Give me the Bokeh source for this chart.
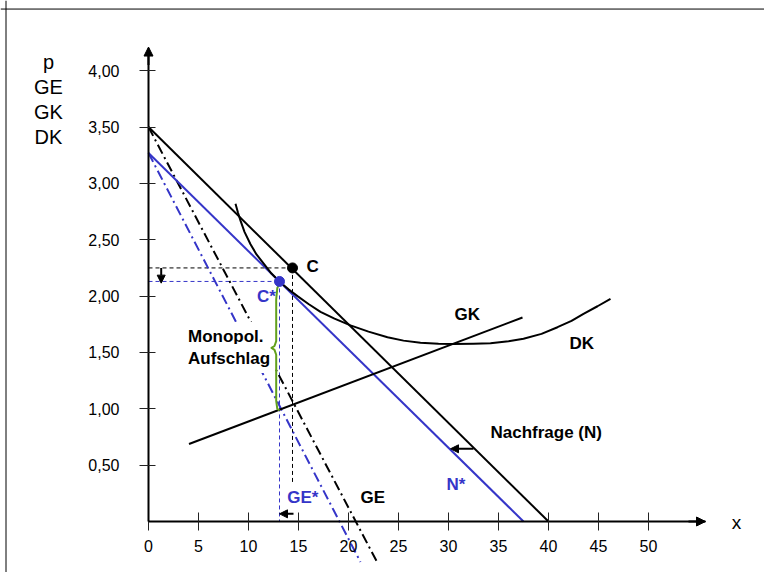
from bokeh.plotting import figure
from bokeh.models import Range1d, FixedTicker, Arrow, NormalHead, Span
from bokeh.core.properties import value
from bokeh.embed import file_html
from bokeh.resources import INLINE

# ---------------- data ----------------
x_ticks = [0, 5, 10, 15, 20, 25, 30, 35, 40, 45, 50]
x_tick_labels = ["0", "5", "10", "15", "20", "25", "30", "35", "40", "45", "50"]
y_ticks = [0.5, 1.0, 1.5, 2.0, 2.5, 3.0, 3.5, 4.0]
y_tick_labels = ["0,50", "1,00", "1,50", "2,00", "2,50", "3,00", "3,50", "4,00"]
y_title_lines = ["p", "GE", "GK", "DK"]
x_title = "x"

# demand N and shifted demand N*
n_x = [0, 40]
n_y = [3.5, 0]
ns_x = [0, 37.5]
ns_y = [3.27, 0]
# marginal revenue GE and GE*
ge_x = [0, 22.8]
ge_y = [3.5, -0.35]
ges_x = [0, 21.2]
ges_y = [3.27, -0.36]
# marginal cost GK
gk_x = [4.05, 37.4]
gk_y = [0.688, 1.81]
# average cost DK
dk_x = [8.7, 8.95, 9.2, 9.6, 10.2, 10.8, 11.5, 12.3, 13.2, 14.0, 14.9, 16.0, 17.2, 18.6,
        20.2, 22.0, 23.9, 25.5, 27.2, 29.0, 30.5, 32.5, 34.2, 36.0, 37.5, 39.3, 40.9,
        42.3, 43.5, 44.9, 46.2]
dk_y = [2.82, 2.74, 2.67, 2.57, 2.46, 2.37, 2.29, 2.20, 2.12, 2.06, 2.0, 1.93, 1.86, 1.80,
        1.74, 1.685, 1.635, 1.605, 1.586, 1.577, 1.575, 1.577, 1.582, 1.60, 1.621, 1.665, 1.724,
        1.78, 1.843, 1.91, 1.976]
# points C and C*
c_x, c_y = 14.4, 2.25
cs_x, cs_y = 13.1, 2.13
c_drop_end = 0.35
# monopoly markup brace
brace_x = [13.1, 12.88, 12.77, 12.77, 12.6, 12.3, 12.6, 12.77, 12.77, 12.88, 13.1]
brace_y = [2.12, 2.07, 1.97, 1.6, 1.557, 1.54, 1.523, 1.48, 1.07, 1.0, 0.985]
# shift arrows (start x, start y, end x, end y)
arrows = [
    (1.27, 2.25, 1.27, 2.115),
    (14.5, 0.068, 13.1, 0.068),
    (32.5, 0.645, 30.2, 0.645),
]

# labels
black_labels = ["C", "GK", "DK", "Nachfrage (N)", "GE"]
black_label_x = [15.8, 30.6, 42.1, 34.2, 21.2]
black_label_y = [2.263, 1.837, 1.579, 0.792, 0.213]
blue_labels = ["C*", "N*", "GE*"]
blue_label_x = [10.85, 29.8, 13.87]
blue_label_y = [1.996, 0.331, 0.21]
markup_lines = ["Monopol.", "Aufschlag"]
markup_x = [3.45, 3.45]
markup_y = [1.642, 1.446]

BLUE = "#3535c8"
GREEN = "#62a01c"
FONT = value("Liberation Sans")

# ---------------- figure ----------------
p = figure(width=764, height=572,
           x_range=Range1d(-14.8, 61.6), y_range=Range1d(-0.4525, 4.6229),
           output_backend="svg", toolbar_location=None, min_border=0)
p.grid.visible = False
p.outline_line_color = None

# axes at the origin
xa = p.xaxis[0]
ya = p.yaxis[0]
xa.fixed_location = 0
ya.fixed_location = 0
xa.bounds = (0, 55.7)
ya.bounds = (0, 4.2)
xa.ticker = FixedTicker(ticks=x_ticks)
ya.ticker = FixedTicker(ticks=y_ticks)
xa.major_label_overrides = {t: l for t, l in zip(x_ticks, x_tick_labels)}
ya.major_label_overrides = {t: l for t, l in zip(y_ticks, y_tick_labels)}
for ax in (xa, ya):
    ax.axis_line_width = 2
    ax.axis_line_color = "black"
    ax.major_tick_line_color = "#222222"
    ax.major_tick_line_width = 1
    ax.minor_tick_line_color = None
    ax.major_label_text_font = "Liberation Sans"
    ax.major_label_text_font_size = "16px"
    ax.major_label_text_color = "black"
xa.major_tick_in = 9
xa.major_tick_out = 9
xa.major_label_standoff = 9
ya.major_tick_in = 7
ya.major_tick_out = 9
ya.major_label_standoff = 20

# axis arrow heads
p.add_layout(Arrow(x_start=0, y_start=4.05, x_end=0, y_end=4.21, line_width=2,
                   end=NormalHead(size=9, fill_color="black", line_color="black")))
p.add_layout(Arrow(x_start=54, y_start=0, x_end=55.7, y_end=0, line_width=2,
                   end=NormalHead(size=9, fill_color="black", line_color="black")))

# frame border (left and top visible)
p.add_layout(Span(location=-14.25, dimension="height", line_color="black", line_width=1))
p.add_layout(Span(location=4.547, dimension="width", line_color="black", line_width=1))

# dashed guide lines
p.line([0, c_x], [c_y, c_y], line_color="black", line_width=1, line_dash="4 3")
p.line([c_x, c_x], [c_y, c_drop_end], line_color="black", line_width=1, line_dash="4 3")
p.line([0, cs_x], [cs_y, cs_y], line_color=BLUE, line_width=1, line_dash="4 3")
p.line([cs_x, cs_x], [cs_y, 0], line_color=BLUE, line_width=1, line_dash="4 3")

# curves
p.line(ge_x, ge_y, line_color="black", line_width=2, line_dash="10 4 2 4")
p.line(ges_x, ges_y, line_color=BLUE, line_width=2, line_dash="10 4 2 4")
p.line(n_x, n_y, line_color="black", line_width=2)
p.line(ns_x, ns_y, line_color=BLUE, line_width=2)
p.line(gk_x, gk_y, line_color="black", line_width=2)
p.line(dk_x, dk_y, line_color="black", line_width=2, line_join="round")

# markup text with white box
p.text(x=markup_x, y=markup_y, text=markup_lines, text_font=FONT, text_font_style="bold",
       text_font_size="17px", text_color="black", text_align="left", text_baseline="middle",
       background_fill_color="white", padding=5)

# brace
p.line(brace_x, brace_y, line_color=GREEN, line_width=2, line_join="round")

# small shift arrows
for x0, y0, x1, y1 in arrows:
    p.add_layout(Arrow(x_start=x0, y_start=y0, x_end=x1, y_end=y1, line_width=2,
                       end=NormalHead(size=8, fill_color="black", line_color="black")))

# points
p.scatter([c_x], [c_y], size=10, color="black")
p.scatter([cs_x], [cs_y], size=10, color=BLUE)

# labels
p.text(x=black_label_x, y=black_label_y, text=black_labels, text_font=FONT, text_font_style="bold",
       text_font_size="17px", text_color="black", text_align="left", text_baseline="middle")
p.text(x=blue_label_x, y=blue_label_y, text=blue_labels, text_font=FONT, text_font_style="bold",
       text_font_size="17px", text_color=BLUE, text_align="left", text_baseline="middle")

# axis titles
p.text(x=[-10.0] * 4, y=[4.075, 3.854, 3.632, 3.410], text=y_title_lines, text_font=FONT,
       text_font_size="20px", text_color="black", text_align="center", text_baseline="alphabetic")
p.text(x=[58.8], y=[-0.01], text=[x_title], text_font=FONT,
       text_font_size="19px", text_color="black", text_align="center", text_baseline="middle")

open("out.html", "w").write(file_html(p, INLINE))
